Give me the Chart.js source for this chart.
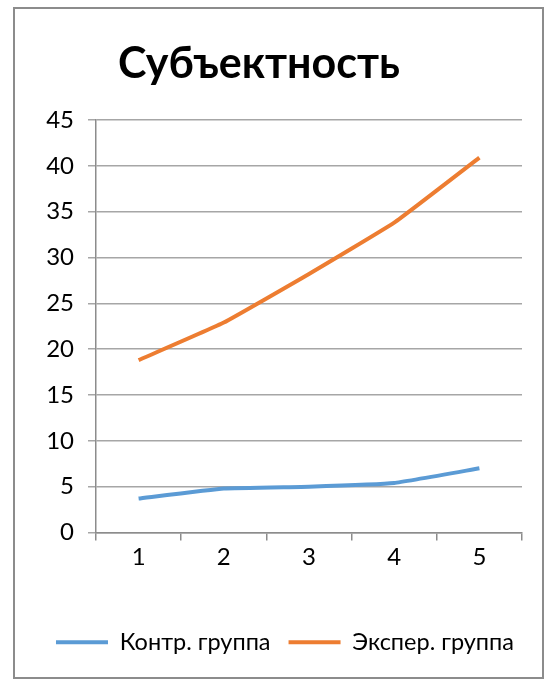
<!DOCTYPE html>
<html><head><meta charset="utf-8">
<script src="https://cdn.jsdelivr.net/npm/chart.js@4/dist/chart.umd.min.js"></script>
<style>
html,body{margin:0;padding:0;background:#fff;}
#frame{position:absolute;left:13px;top:7px;width:527px;height:668px;border:2px solid #8c8c8c;box-sizing:content-box;}
#wrap{position:absolute;left:0;top:0;width:552px;height:684px;}
</style></head>
<body>
<div id="frame"></div>
<div id="wrap"><canvas id="c" width="552" height="684"></canvas></div>
<script>
const titleText = 'Субъектность';
const categories = ['1','2','3','4','5'];
const controlLabel = 'Контр. группа';
const controlValues = [3.7, 4.8, 5.0, 5.4, 7.0];
const expLabel = 'Экспер. группа';
const expValues = [18.8, 22.9, 28.2, 33.8, 40.9];
const yTicks = [0,5,10,15,20,25,30,35,40,45];

const FONT = 'Lato, Carlito, Calibri, sans-serif';

const titlePlugin = {
  id: 'customTitle',
  afterLayout(chart) {
    if (chart.legend) { chart.legend.left += 24; chart.legend.right += 24; }
  },
  afterDraw(chart) {
    const ctx = chart.ctx;
    ctx.save();
    ctx.font = 'bold 43px ' + FONT;
    ctx.fillStyle = '#000';
    ctx.textAlign = 'center';
    ctx.textBaseline = 'alphabetic';
    ctx.fillText(titleText, 259, 78);
    ctx.restore();
  }
};

new Chart(document.getElementById('c'), {
  type: 'line',
  data: {
    labels: categories,
    datasets: [
      {label: controlLabel, data: controlValues, borderColor: '#5B9BD5', backgroundColor: '#5B9BD5', borderWidth: 4, pointRadius: 0, tension: 0.1, fill: false},
      {label: expLabel, data: expValues, borderColor: '#ED7D31', backgroundColor: '#ED7D31', borderWidth: 4, pointRadius: 0, tension: 0.1, fill: false}
    ]
  },
  options: {
    responsive: false,
    animation: false,
    devicePixelRatio: 1,
    layout: {padding: {left: 0, right: 30, top: 120, bottom: 20}},
    plugins: {
      title: {display: false},
      tooltip: {enabled: false},
      legend: {
        position: 'bottom',
        labels: {
          usePointStyle: true,
          pointStyle: 'line',
          pointStyleWidth: 52,
          padding: 18,
          color: '#000',
          font: {family: FONT, size: 23.5}
        }
      }
    },
    scales: {
      x: {
        offset: true,
        grid: {offset: true, drawOnChartArea: false, drawTicks: true, tickLength: 8, color: '#8c8c8c', lineWidth: 1.5},
        border: {color: '#8c8c8c', width: 1.5},
        ticks: {color: '#000', font: {family: FONT, size: 24}, padding: 2},
        afterFit(s) { s.height = 80; }
      },
      y: {
        min: 0, max: 45,
        afterBuildTicks(s) { s.ticks = yTicks.map(v => ({value: v})); },
        grid: {color: '#a6a6a6', lineWidth: 1.5, drawTicks: true, tickLength: 8},
        border: {color: '#8c8c8c', width: 1.5},
        ticks: {color: '#000', font: {family: FONT, size: 24}, padding: 14},
        afterFit(s) { s.width = 96; }
      }
    }
  },
  plugins: [titlePlugin]
});
</script>
</body></html>
